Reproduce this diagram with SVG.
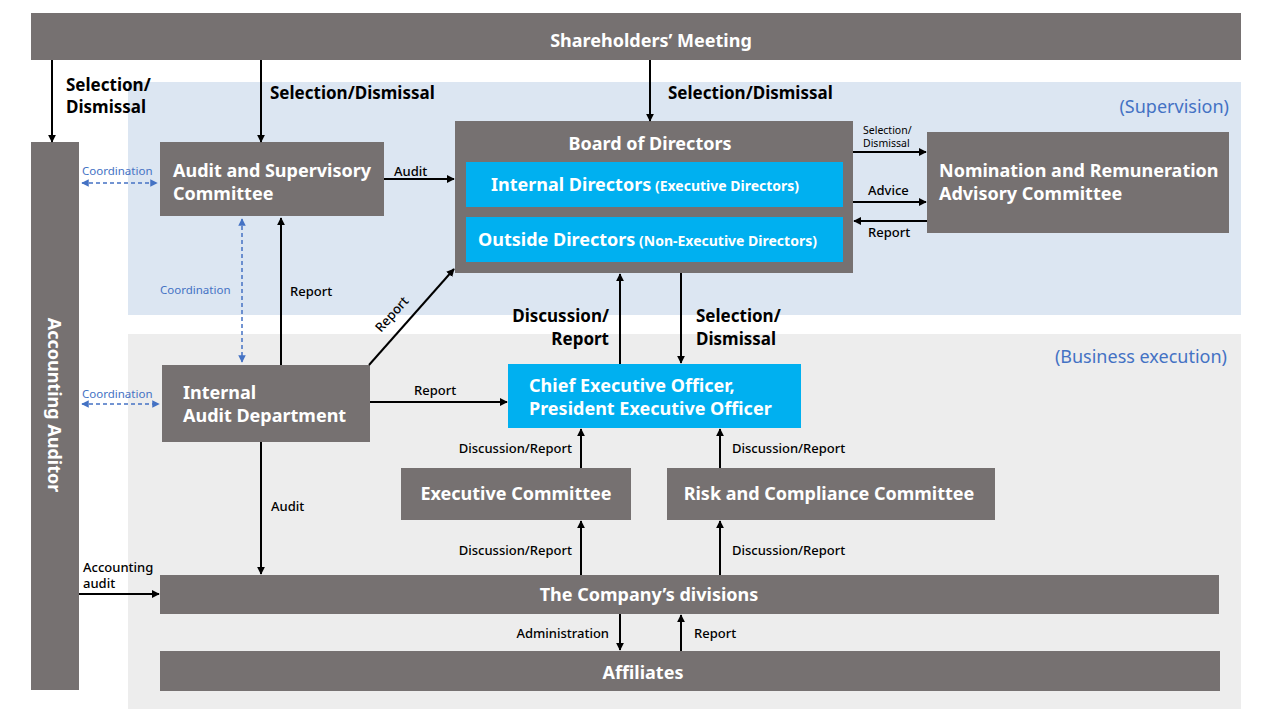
<svg xmlns="http://www.w3.org/2000/svg" width="1280" height="720" viewBox="0 0 1280 720">
<style>
text{font-family:"Noto Sans","Liberation Sans",sans-serif;}
.g{fill:#767171}
.c{fill:#00B0F0}
.wt{fill:#fff;font-weight:bold;font-size:18px}
.lb{fill:#000;font-weight:bold;font-size:17px}
.sm{fill:#000;font-size:13px;font-weight:500}
.bl{fill:#4472C4;font-size:11.5px}
.ln{stroke:#000;stroke-width:2;fill:none;marker-end:url(#a)}
.dl{stroke:#4472C4;stroke-width:1.5;stroke-dasharray:4 3;fill:none;marker-end:url(#b);marker-start:url(#bs)}
</style>
<defs>
<marker id="a" viewBox="0 0 10 10" refX="9" refY="5" markerWidth="4" markerHeight="4" orient="auto"><path d="M0,0L10,5L0,10z" fill="#000"/></marker>
<marker id="b" viewBox="0 0 10 10" refX="9" refY="5" markerWidth="5" markerHeight="5" orient="auto"><path d="M0,0L10,5L0,10z" fill="#4472C4"/></marker>
<marker id="bs" viewBox="0 0 10 10" refX="1" refY="5" markerWidth="5" markerHeight="5" orient="auto"><path d="M10,0L0,5L10,10z" fill="#4472C4"/></marker>
</defs>
<rect width="1280" height="720" fill="#fff"/>
<rect x="128" y="82" width="1113" height="233" fill="#DCE6F2"/>
<rect x="128" y="334" width="1113" height="375" fill="#EDEDED"/>
<text x="1229" y="113" text-anchor="end" fill="#4472C4" font-size="18">(Supervision)</text>
<text x="1227" y="363" text-anchor="end" fill="#4472C4" font-size="18">(Business execution)</text>
<g id="shareholders"><rect class="g" x="31" y="13" width="1210" height="47"/><text class="wt" x="651" y="47" text-anchor="middle" font-size="23">Shareholders’ Meeting</text></g>
<g id="auditor"><rect class="g" x="31" y="142" width="48" height="548"/><text class="wt" transform="translate(48,405) rotate(90)" text-anchor="middle">Accounting Auditor</text></g>
<g id="asc"><rect class="g" x="160" y="142" width="224" height="74"/><text class="wt" x="173" y="177">Audit and Supervisory</text><text class="wt" x="173" y="200">Committee</text></g>
<g id="board"><rect class="g" x="455" y="121" width="398" height="152"/><text class="wt" x="650" y="150" text-anchor="middle" font-size="22">Board of Directors</text>
<rect class="c" x="466" y="162" width="377" height="45"/><text class="wt" x="491" y="191">Internal Directors<tspan font-size="14"> (Executive Directors)</tspan></text>
<rect class="c" x="466" y="217" width="377" height="45"/><text class="wt" x="478" y="246">Outside Directors<tspan font-size="14"> (Non-Executive Directors)</tspan></text></g>
<g id="nom"><rect class="g" x="927" y="132" width="302" height="101"/><text class="wt" x="939" y="177">Nomination and Remuneration</text><text class="wt" x="939" y="200">Advisory Committee</text></g>
<g id="iad"><rect class="g" x="162" y="365" width="208" height="77"/><text class="wt" x="183" y="399">Internal</text><text class="wt" x="183" y="422">Audit Department</text></g>
<g id="ceo"><rect class="c" x="508" y="364" width="293" height="64"/><text class="wt" x="529" y="392">Chief Executive Officer,</text><text class="wt" x="529" y="415">President Executive Officer</text></g>
<g id="exec"><rect class="g" x="401" y="468" width="230" height="52"/><text class="wt" x="516" y="500" text-anchor="middle">Executive Committee</text></g>
<g id="risk"><rect class="g" x="667" y="468" width="328" height="52"/><text class="wt" x="829" y="500" text-anchor="middle">Risk and Compliance Committee</text></g>
<g id="div"><rect class="g" x="160" y="575" width="1059" height="39"/><text class="wt" x="649" y="601" text-anchor="middle">The Company’s divisions</text></g>
<g id="aff"><rect class="g" x="160" y="651" width="1060" height="40"/><text class="wt" x="643" y="679" text-anchor="middle">Affiliates</text></g>
<g id="connectors">
<path class="ln" d="M52,60V142"/><text class="lb" x="66" y="91">Selection/</text><text class="lb" x="66" y="113">Dismissal</text>
<path class="ln" d="M261,60V142"/><text class="lb" x="270" y="99">Selection/Dismissal</text>
<path class="ln" d="M650,60V121"/><text class="lb" x="668" y="99">Selection/Dismissal</text>
<path class="dl" d="M82,183H157"/><text class="bl" x="82" y="175">Coordination</text>
<path class="dl" d="M82,404H159"/><text class="bl" x="82" y="398">Coordination</text>
<path class="dl" d="M242,219V362"/><text class="bl" x="160" y="294">Coordination</text>
<path class="ln" d="M384,179H454"/><text class="sm" x="394" y="176">Audit</text>
<path class="ln" d="M853,152H926"/><text x="863" y="134" font-size="10.5">Selection/</text><text x="863" y="147" font-size="10.5">Dismissal</text>
<path class="ln" d="M853,202H926"/><text class="sm" x="868" y="195">Advice</text>
<path class="ln" d="M927,221H854"/><text class="sm" x="868" y="237">Report</text>
<path class="ln" d="M281,365V218"/><text class="sm" x="290" y="296">Report</text>
<path class="ln" d="M369,365L454,269"/><text class="sm" transform="translate(381,333) rotate(-48)">Report</text>
<path class="ln" d="M370,402H507"/><text class="sm" x="414" y="395">Report</text>
<path class="ln" d="M620,364V274"/><text class="lb" x="609" y="322" text-anchor="end">Discussion/</text><text class="lb" x="609" y="345" text-anchor="end">Report</text>
<path class="ln" d="M681,273V363"/><text class="lb" x="696" y="322">Selection/</text><text class="lb" x="696" y="345">Dismissal</text>
<path class="ln" d="M581,468V429"/><text class="sm" x="572" y="453" text-anchor="end">Discussion/Report</text>
<path class="ln" d="M720,468V429"/><text class="sm" x="732" y="453">Discussion/Report</text>
<path class="ln" d="M581,575V521"/><text class="sm" x="572" y="555" text-anchor="end">Discussion/Report</text>
<path class="ln" d="M720,575V521"/><text class="sm" x="732" y="555">Discussion/Report</text>
<path class="ln" d="M261,442V574"/><text class="sm" x="271" y="511">Audit</text>
<path class="ln" d="M79,594H159"/><text class="sm" x="83" y="572">Accounting</text><text class="sm" x="83" y="588">audit</text>
<path class="ln" d="M620,614V650"/><text class="sm" x="609" y="638" text-anchor="end">Administration</text>
<path class="ln" d="M681,651V615"/><text class="sm" x="694" y="638">Report</text>
</g>
</svg>
